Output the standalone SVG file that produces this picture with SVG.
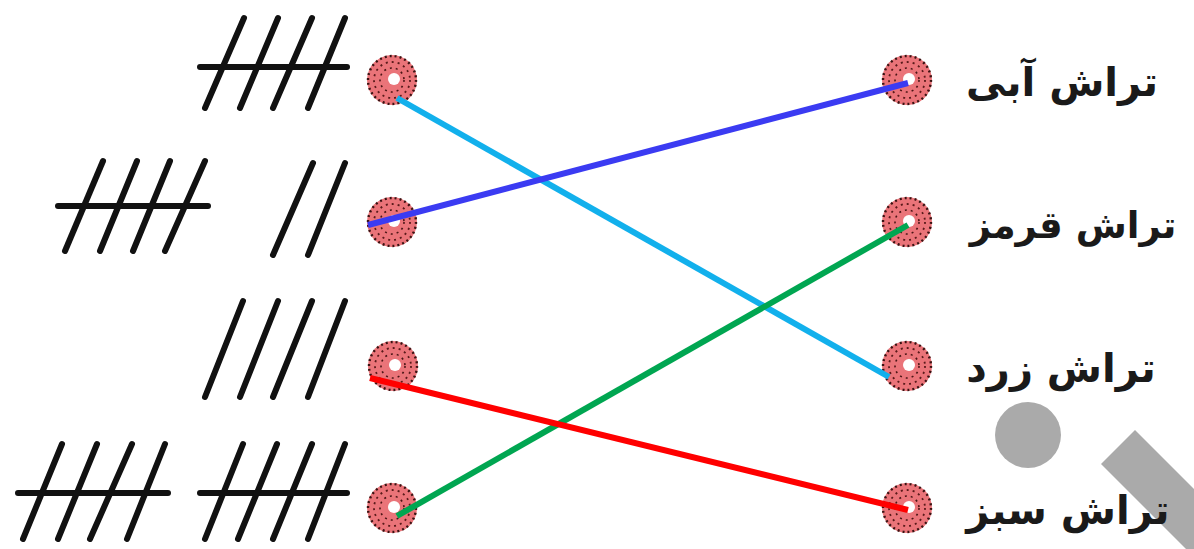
<svg xmlns="http://www.w3.org/2000/svg" width="1194" height="549" viewBox="0 0 1194 549">
<style>
.tally{stroke:#111;stroke-width:6;stroke-linecap:round;fill:none}
.lbl{font-family:"DejaVu Sans",sans-serif;font-weight:bold;font-size:40px;fill:#1a1a1a;text-anchor:middle}
.conn{stroke-width:6;stroke-linecap:butt;fill:none}
</style>
<defs>
<g id="dot">
<circle r="25" fill="#ea7479"/>
<circle r="24" fill="none" stroke="#3a1212" stroke-width="2.4" stroke-dasharray="2 3"/>
<circle r="18" fill="none" stroke="#5a1a1a" stroke-width="1.8" stroke-dasharray="2 4"/>
<circle r="12" fill="none" stroke="#4a1515" stroke-width="1.6" stroke-dasharray="2 4"/>
<circle r="6" cx="2" cy="-1" fill="#fff"/>
</g>
</defs>
<rect width="1194" height="549" fill="#fff"/>
<g id="watermark" fill="#aaaaaa">
<circle cx="1028" cy="435" r="33"/>
<polygon points="1135,430 1101,464 1208,571 1242,537"/>
</g>
<g id="left1">
<line class="tally" x1="200" y1="67" x2="347" y2="67"/>
<line class="tally" x1="244" y1="18" x2="205" y2="108"/>
<line class="tally" x1="278" y1="18" x2="240" y2="108"/>
<line class="tally" x1="312" y1="18" x2="273" y2="108"/>
<line class="tally" x1="345" y1="18" x2="308" y2="108"/>
<use href="#dot" x="392" y="80"/>
</g>
<g id="left2">
<line class="tally" x1="58" y1="206" x2="208" y2="206"/>
<line class="tally" x1="103" y1="161" x2="65" y2="251"/>
<line class="tally" x1="137" y1="161" x2="100" y2="251"/>
<line class="tally" x1="170" y1="161" x2="133" y2="251"/>
<line class="tally" x1="205" y1="161" x2="165" y2="251"/>
<line class="tally" x1="313" y1="163" x2="273" y2="255"/>
<line class="tally" x1="345" y1="163" x2="308" y2="255"/>
<use href="#dot" x="392" y="222"/>
</g>
<g id="left3">
<line class="tally" x1="243" y1="301" x2="205" y2="397"/>
<line class="tally" x1="278" y1="301" x2="240" y2="397"/>
<line class="tally" x1="312" y1="301" x2="273" y2="397"/>
<line class="tally" x1="345" y1="301" x2="308" y2="397"/>
<use href="#dot" x="393" y="366"/>
</g>
<g id="left4">
<line class="tally" x1="18" y1="493" x2="168" y2="493"/>
<line class="tally" x1="62" y1="444" x2="23" y2="539"/>
<line class="tally" x1="97" y1="444" x2="58" y2="539"/>
<line class="tally" x1="132" y1="444" x2="90" y2="539"/>
<line class="tally" x1="165" y1="444" x2="127" y2="539"/>
<line class="tally" x1="200" y1="493" x2="347" y2="493"/>
<line class="tally" x1="243" y1="444" x2="205" y2="539"/>
<line class="tally" x1="277" y1="444" x2="238" y2="539"/>
<line class="tally" x1="312" y1="444" x2="273" y2="539"/>
<line class="tally" x1="345" y1="444" x2="308" y2="539"/>
<use href="#dot" x="392" y="508"/>
</g>
<g id="right1">
<use href="#dot" x="907" y="80"/>
<text class="lbl" x="1062" y="96" direction="rtl">تراش آبی</text>
</g>
<g id="right2">
<use href="#dot" x="907" y="222"/>
<text class="lbl" x="1073" y="238" direction="rtl" style="font-size:37px">تراش قرمز</text>
</g>
<g id="right3">
<use href="#dot" x="907" y="366"/>
<text class="lbl" x="1061" y="382" direction="rtl">تراش زرد</text>
</g>
<g id="right4">
<use href="#dot" x="907" y="508"/>
<text class="lbl" x="1068" y="524" direction="rtl">تراش سبز</text>
</g>
<g id="connectors">
<line class="conn" stroke="#12b0ec" x1="397" y1="98" x2="889" y2="377"/>
<line class="conn" stroke="#3b3bf2" x1="368" y1="225" x2="908" y2="83"/>
<line class="conn" stroke="#00a651" x1="397" y1="516" x2="908" y2="225"/>
<line class="conn" stroke="#ff0000" x1="370" y1="378" x2="908" y2="510"/>
</g>
</svg>
